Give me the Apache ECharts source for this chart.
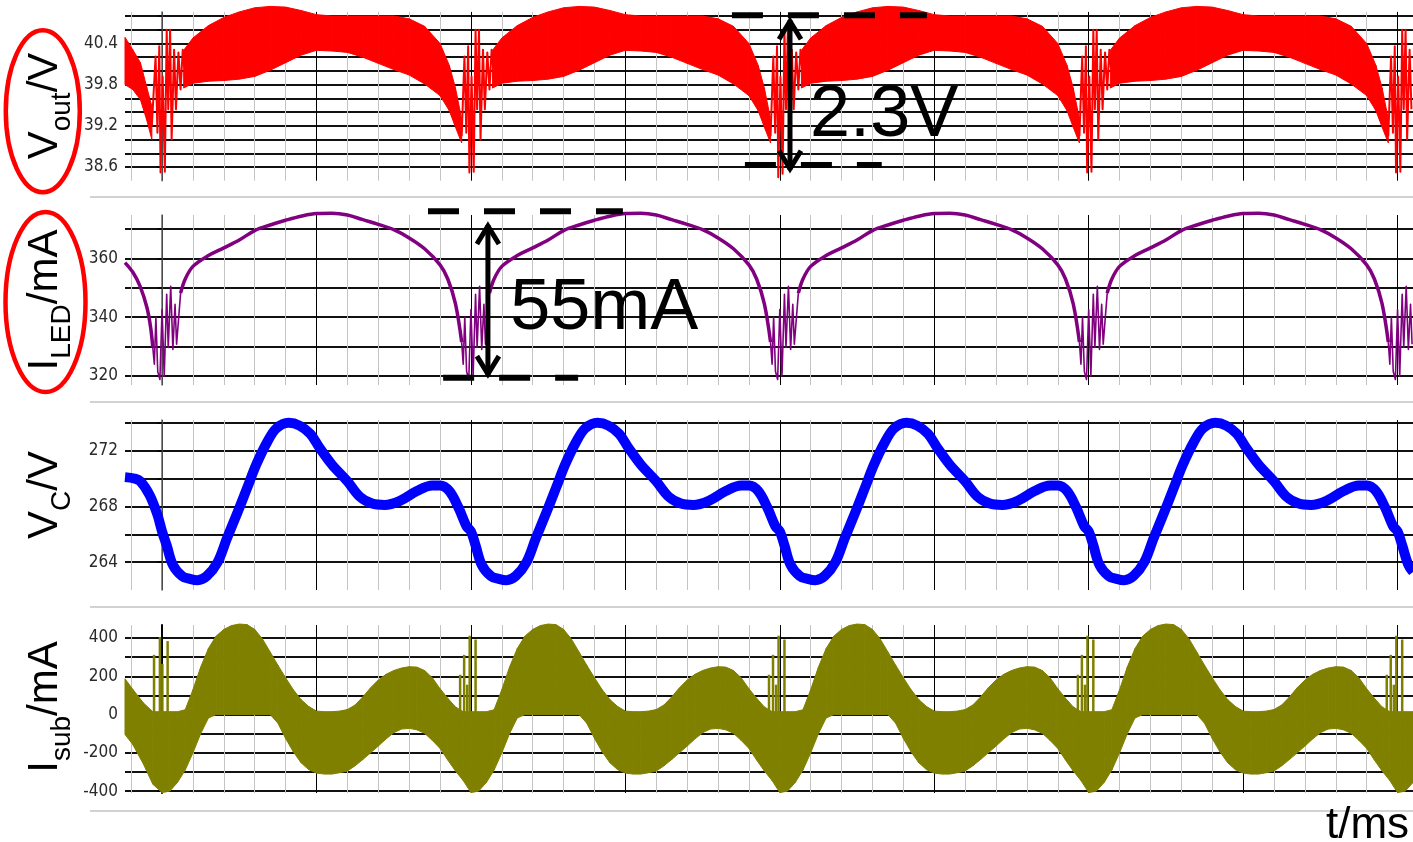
<!DOCTYPE html>
<html><head><meta charset="utf-8">
<script src="https://cdn.jsdelivr.net/npm/echarts@6/dist/echarts.min.js"></script>
<style>html,body{margin:0;padding:0;background:#fff}#c{width:1413px;height:842px}</style>
</head><body><div id="c"></div>
<script>
// ---------- DATA (t in ms) ----------
// Vout ripple band (lower / upper envelope), null = break at the dips
const VOUT_T = [-1.2,-0.95,-0.7,-0.5,-0.33,null,
0.7,1,1.5,2,2.5,3,3.5,4,4.5,5,5.5,6,6.5,7,7.5,8,8.5,9,9.3,9.5,9.7,null,
10.7,11,11.5,12,12.5,13,13.5,14,14.5,15,15.5,16,16.5,17,17.5,18,18.5,19,19.3,19.5,19.7,null,
20.7,21,21.5,22,22.5,23,23.5,24,24.5,25,25.5,26,26.5,27,27.5,28,28.5,29,29.3,29.5,29.7,null,
30.7,31,31.5,32,32.5,33,33.5,34,34.5,35,35.5,36,36.5,37,37.5,38,38.5,39,39.3,39.5,39.7];
const VOUT_HI = [40.49,40.31,40.12,39.77,39.48,null,
40.30,40.48,40.66,40.78,40.86,40.92,40.94,40.93,40.88,40.82,40.80,40.80,40.80,40.80,40.80,40.76,40.65,40.40,40.08,39.75,39.30,null,
40.30,40.48,40.66,40.78,40.86,40.92,40.94,40.93,40.88,40.82,40.80,40.80,40.80,40.80,40.80,40.76,40.65,40.40,40.08,39.75,39.30,null,
40.30,40.48,40.66,40.78,40.86,40.92,40.94,40.93,40.88,40.82,40.80,40.80,40.80,40.80,40.80,40.76,40.65,40.40,40.08,39.75,39.30,null,
40.30,40.48,40.66,40.78,40.86,40.92,40.94,40.93,40.88,40.82,40.80,40.80,40.80,40.80,40.80,40.76,40.65,40.40,40.08,39.75,39.30];
const VOUT_LO = [39.80,39.73,39.58,39.29,39.00,null,
39.75,39.82,39.85,39.86,39.88,39.92,40.01,40.12,40.23,40.30,40.29,40.27,40.20,40.11,40.02,39.94,39.81,39.64,39.42,39.18,38.95,null,
39.75,39.82,39.85,39.86,39.88,39.92,40.01,40.12,40.23,40.30,40.29,40.27,40.20,40.11,40.02,39.94,39.81,39.64,39.42,39.18,38.95,null,
39.75,39.82,39.85,39.86,39.88,39.92,40.01,40.12,40.23,40.30,40.29,40.27,40.20,40.11,40.02,39.94,39.81,39.64,39.42,39.18,38.95,null,
39.75,39.82,39.85,39.86,39.88,39.92,40.01,40.12,40.23,40.30,40.29,40.27,40.20,40.11,40.02,39.94,39.81,39.64,39.42,39.18,38.95];
// Vout oscillation at the dips
const VOUT_SPK_T = [-0.33,-0.21,-0.15,-0.09,-0.05,0.02,0.09,0.15,0.2,0.26,0.31,0.39,0.45,0.53,0.6,0.67,0.72,null,
9.7,9.79,9.85,9.91,9.95,10.02,10.09,10.15,10.2,10.26,10.31,10.39,10.45,10.53,10.6,10.67,10.72,null,
19.7,19.79,19.85,19.91,19.95,20.02,20.09,20.15,20.2,20.26,20.31,20.39,20.45,20.53,20.6,20.67,20.72,null,
29.7,29.79,29.85,29.91,29.95,30.02,30.09,30.15,30.2,30.26,30.31,30.39,30.45,30.53,30.6,30.67,30.72,null,
39.7,39.79,39.85,39.91,39.95,40.02,40.09,40.15,40.2,40.26,40.31,40.39,40.45];
const VOUT_SPK_V = [39.2,40.21,39.1,40.36,38.52,39.92,38.53,40.6,39.44,40.6,39.0,40.31,39.44,40.27,39.73,40.31,40.05,null,
39.05,40.21,39.1,40.36,38.52,39.92,38.53,40.6,39.44,40.6,39.0,40.31,39.44,40.27,39.73,40.31,40.05,null,
39.05,40.21,39.1,40.36,38.45,39.92,38.5,40.6,39.44,40.6,39.0,40.31,39.44,40.27,39.73,40.31,40.05,null,
39.05,40.21,39.1,40.36,38.52,39.92,38.53,40.6,39.44,40.6,39.0,40.31,39.44,40.27,39.73,40.31,40.05,null,
39.05,40.21,39.1,40.36,38.52,39.92,38.53,40.6,39.44,40.6,39.0,40.31,39.44];
// I_LED
const ILED_T = [-1.2,-0.94,-0.71,-0.49,-0.37,-0.3,null,
0.6,0.75,1,1.5,2,2.5,3,3.5,4,4.5,5,5.5,6,6.5,7,7.5,8,8.5,9,9.25,9.5,9.7,null,
10.6,10.75,11,11.5,12,12.5,13,13.5,14,14.5,15,15.5,16,16.5,17,17.5,18,18.5,19,19.25,19.5,19.7,null,
20.6,20.75,21,21.5,22,22.5,23,23.5,24,24.5,25,25.5,26,26.5,27,27.5,28,28.5,29,29.25,29.5,29.7,null,
30.6,30.75,31,31.5,32,32.5,33,33.5,34,34.5,35,35.5,36,36.5,37,37.5,38,38.5,39,39.25,39.5,39.7];
const ILED_V = [358.6,355.2,350.5,343.3,336.5,329.7,null,
348.2,353.0,357.3,361.0,363.6,366.3,369.5,371.4,373.0,374.4,375.3,375.4,374.8,373.2,371.6,369.8,367.0,363.3,357.8,353.0,344.5,331.5,null,
348.2,353.0,357.3,361.0,363.6,366.3,369.5,371.4,373.0,374.4,375.3,375.4,374.8,373.2,371.6,369.8,367.0,363.3,357.8,353.0,344.5,331.5,null,
348.2,353.0,357.3,361.0,363.6,366.3,369.5,371.4,373.0,374.4,375.3,375.4,374.8,373.2,371.6,369.8,367.0,363.3,357.8,353.0,344.5,331.5,null,
348.2,353.0,357.3,361.0,363.6,366.3,369.5,371.4,373.0,374.4,375.3,375.4,374.8,373.2,371.6,369.8,367.0,363.3,357.8,353.0,344.5,331.5];
const ILED_SPK_T = [-0.3,-0.25,-0.2,-0.14,-0.07,0,0.07,0.15,0.2,0.28,0.35,0.42,0.47,0.6,null,
9.7,9.75,9.8,9.86,9.93,10,10.07,10.15,10.2,10.28,10.35,10.42,10.47,10.6,null,
19.7,19.75,19.8,19.86,19.93,20,20.07,20.15,20.2,20.28,20.35,20.42,20.47,20.6,null,
29.7,29.75,29.8,29.86,29.93,30,30.07,30.15,30.2,30.28,30.35,30.42,30.47,30.6,null,
39.7,39.75,39.8,39.86,39.93,40,40.07,40.15,40.2,40.28,40.35,40.42,40.47];
const ILED_SPK_V = [329.7,324,340,321.5,318.8,342.6,320,347.8,329.7,350.5,329,344.4,330.8,348.2,null,
331.5,324,340,321.5,318.8,342.6,320,347.8,329.7,350.5,329,344.4,330.8,348.2,null,
331.5,324,340,321.5,318.8,342.6,320,347.8,329.7,350.5,329,344.4,330.8,348.2,null,
331.5,324,340,321.5,318.8,342.6,320,347.8,329.7,350.5,329,344.4,330.8,348.2,null,
331.5,324,340,321.5,318.8,342.6,320,347.8,329.7,350.5,329,344.4,330.8];
// V_C
const VC_T = [-1.2,-0.9,-0.7,-0.4,-0.15,
0,0.15,0.35,0.65,0.9,1.15,1.45,1.8,2.1,2.45,2.75,3.05,3.4,3.7,4.1,4.45,4.8,5.1,5.5,6,6.4,6.8,7.2,7.7,8.25,8.75,9,9.3,9.6,9.85,
10,10.15,10.35,10.65,10.9,11.15,11.45,11.8,12.1,12.45,12.75,13.05,13.4,13.7,14.1,14.45,14.8,15.1,15.5,16,16.4,16.8,17.2,17.7,18.25,18.75,19,19.3,19.6,19.85,
20,20.15,20.35,20.65,20.9,21.15,21.45,21.8,22.1,22.45,22.75,23.05,23.4,23.7,24.1,24.45,24.8,25.1,25.5,26,26.4,26.8,27.2,27.7,28.25,28.75,29,29.3,29.6,29.85,
30,30.15,30.35,30.65,30.9,31.15,31.45,31.8,32.1,32.45,32.75,33.05,33.4,33.7,34.1,34.45,34.8,35.1,35.5,36,36.4,36.8,37.2,37.7,38.25,38.75,39,39.3,39.6,39.85,
40,40.15,40.35,40.5];
const VC_V = [270.1,270.0,269.8,268.8,267.4,
266.2,265.2,263.8,263.0,262.8,262.7,263.0,264.0,265.7,267.6,269.3,271.0,272.6,273.6,274.0,273.8,273.2,272.2,271.0,269.8,268.7,268.2,268.1,268.4,269.1,269.5,269.5,269.1,267.9,266.6,
266.2,265.2,263.8,263.0,262.8,262.7,263.0,264.0,265.7,267.6,269.3,271.0,272.6,273.6,274.0,273.8,273.2,272.2,271.0,269.8,268.7,268.2,268.1,268.4,269.1,269.5,269.5,269.1,267.9,266.6,
266.2,265.2,263.8,263.0,262.8,262.7,263.0,264.0,265.7,267.6,269.3,271.0,272.6,273.6,274.0,273.8,273.2,272.2,271.0,269.8,268.7,268.2,268.1,268.4,269.1,269.5,269.5,269.1,267.9,266.6,
266.2,265.2,263.8,263.0,262.8,262.7,263.0,264.0,265.7,267.6,269.3,271.0,272.6,273.6,274.0,273.8,273.2,272.2,271.0,269.8,268.7,268.2,268.1,268.4,269.1,269.5,269.5,269.1,267.9,266.6,
266.2,265.2,263.8,263.3];
// I_sub ripple band
const ISUB_T = [-1.2,-0.95,-0.6,-0.3,
0,0.25,0.5,0.75,1,1.25,1.5,1.75,2,2.25,2.5,2.75,3,3.25,3.5,3.75,4,4.25,4.5,4.75,5,5.25,5.5,5.75,6,6.25,6.5,6.75,7,7.25,7.5,7.75,8,8.25,8.5,8.75,9,9.25,9.5,9.75,
10,10.25,10.5,10.75,11,11.25,11.5,11.75,12,12.25,12.5,12.75,13,13.25,13.5,13.75,14,14.25,14.5,14.75,15,15.25,15.5,15.75,16,16.25,16.5,16.75,17,17.25,17.5,17.75,18,18.25,18.5,18.75,19,19.25,19.5,19.75,
20,20.25,20.5,20.75,21,21.25,21.5,21.75,22,22.25,22.5,22.75,23,23.25,23.5,23.75,24,24.25,24.5,24.75,25,25.25,25.5,25.75,26,26.25,26.5,26.75,27,27.25,27.5,27.75,28,28.25,28.5,28.75,29,29.25,29.5,29.75,
30,30.25,30.5,30.75,31,31.25,31.5,31.75,32,32.25,32.5,32.75,33,33.25,33.5,33.75,34,34.25,34.5,34.75,35,35.25,35.5,35.75,36,36.25,36.5,36.75,37,37.25,37.5,37.75,38,38.25,38.5,38.75,39,39.25,39.5,39.75,
40,40.25,40.5];
const ISUB_HI = [187,132,60,15,
15,15,15,25,130,248,345,410,445,465,473,470,445,395,327,258,192,130,78,42,18,15,15,18,26,50,92,140,180,210,230,243,250,248,230,192,135,85,40,15,
15,15,15,25,130,248,345,410,445,465,473,470,445,395,327,258,192,130,78,42,18,15,15,18,26,50,92,140,180,210,230,243,250,248,230,192,135,85,40,15,
15,15,15,25,130,248,345,410,445,465,473,470,445,395,327,258,192,130,78,42,18,15,15,18,26,50,92,140,180,210,230,243,250,248,230,192,135,85,40,15,
15,15,15,25,130,248,345,410,445,465,473,470,445,395,327,258,192,130,78,42,18,15,15,18,26,50,92,140,180,210,230,243,250,248,230,192,135,85,40,15,
15,15,15];
const ISUB_LO = [-104,-156,-260,-364,
-408,-400,-355,-290,-200,-100,-18,0,0,0,0,0,0,0,0,-45,-125,-195,-252,-288,-306,-311,-311,-304,-295,-268,-235,-200,-165,-128,-95,-76,-72,-80,-98,-135,-177,-238,-295,-345,
-408,-400,-355,-290,-200,-100,-18,0,0,0,0,0,0,0,0,-45,-125,-195,-252,-288,-306,-311,-311,-304,-295,-268,-235,-200,-165,-128,-95,-76,-72,-80,-98,-135,-177,-238,-295,-345,
-408,-400,-355,-290,-200,-100,-18,0,0,0,0,0,0,0,0,-45,-125,-195,-252,-288,-306,-311,-311,-304,-295,-268,-235,-200,-165,-128,-95,-76,-72,-80,-98,-135,-177,-238,-295,-345,
-408,-400,-355,-290,-200,-100,-18,0,0,0,0,0,0,0,0,-45,-125,-195,-252,-288,-306,-311,-311,-304,-295,-268,-235,-200,-165,-128,-95,-76,-72,-80,-98,-135,-177,-238,-295,-345,
-408,-400,-355];
const ISUB_SPK_T = [-0.26,-0.07,0.01,0.18, 9.65,9.78,9.88,9.96,10.15, 19.65,19.78,19.88,19.96,20.15, 29.65,29.78,29.88,29.96,30.15, 39.65,39.78,39.88,39.96,40.15];
const ISUB_SPK_V = [312,405,265,384, 208,312,156,412,392, 208,312,156,412,392, 208,312,156,412,392, 208,312,156,412,392];

// tick labels shown on each y axis
const VOUT_LABELS = [38.6, 39.2, 39.8, 40.4];
const ILED_LABELS = [320, 340, 360];
const VC_LABELS = [264, 268, 272];
const ISUB_LABELS = [-400, -200, 0, 200, 400];

// annotations (data coordinates)
const VOUT_ANN = {dashTop:[18.45,24.76,40.81], dashBot:[18.87,23.30,38.63], arrow:[20.33,40.767,38.531], label:[20.98,39.34,'2.3V']};
const ILED_ANN = {dashTop:[8.61,14.92,376.06], dashBot:[9.10,13.47,319.35], arrow:[10.55,372.08,319.6], label:[11.27,342.78,'55mA']};

// ---------- CHART ----------
const FONT = '"Liberation Sans", Arial, sans-serif';
const TICKFONT = '"Liberation Sans Narrow", "DejaVu Sans Condensed", "Liberation Sans", sans-serif';
const chart = echarts.init(document.getElementById('c'), null, {renderer: 'canvas'});

function pts(T, V) { return T.map((t, i) => (t == null || V[i] == null) ? ['-', '-'] : [t, V[i]]); }
function band(idx, T, LO, HI, color) {
  return {
    type: 'custom', xAxisIndex: idx, yAxisIndex: idx, silent: true, clip: false, z: 2,
    data: T.map((t, i) => t == null ? ['-', '-', '-'] : [t, LO[i], HI[i]]),
    encode: {x: 0, y: [1, 2]},
    renderItem: function (params, api) {
      const i = params.dataIndexInside;
      if (i >= params.dataInsideLength - 1) return null;
      const t0 = api.value(0, i), t1 = api.value(0, i + 1);
      if (isNaN(t0) || isNaN(t1)) return null;
      const a = api.coord([t0, api.value(1, i)]), b = api.coord([t0, api.value(2, i)]);
      const c = api.coord([t1, api.value(2, i + 1)]), d = api.coord([t1, api.value(1, i + 1)]);
      return {type: 'polygon', shape: {points: [a, b, c, d]}, style: {fill: color, stroke: color, lineWidth: 1}};
    }
  };
}
function xAx(idx) {
  return {type: 'value', gridIndex: idx, min: -1.2, max: 40.5, minInterval: 5, maxInterval: 5,
    axisLine: {show: false}, axisTick: {show: false}, axisLabel: {show: false},
    splitLine: {show: true, showMinLine: false, showMaxLine: false, lineStyle: {color: '#000', width: 1}},
    minorTick: {show: false, splitNumber: 5},
    minorSplitLine: {show: true, lineStyle: {color: '#c4c4c4', width: 1}}};
}
function yAx(idx, min, max, step, labels, dec, axisColor, axisW) {
  return {type: 'value', gridIndex: idx, min: min, max: max, minInterval: step, maxInterval: step,
    axisLine: {show: true, lineStyle: {color: axisColor, width: axisW}},
    axisTick: {show: true, length: 5, lineStyle: {color: '#000', width: 1.5}},
    axisLabel: {margin: 7, color: '#2a2a2a', fontFamily: TICKFONT, fontSize: 17, showMinLabel: false, showMaxLabel: false,
      formatter: v => labels.some(l => Math.abs(l - v) < 1e-6) ? Number(v).toFixed(dec) : ''},
    splitLine: {show: true, showMinLine: false, showMaxLine: false, lineStyle: {color: '#111', width: 2}}};
}
const line = (idx, T, V, color, w, sm) => ({type: 'line', xAxisIndex: idx, yAxisIndex: idx, data: pts(T, V),
  symbol: 'none', showSymbol: false, connectNulls: false, clip: false, silent: true, smooth: sm || false,
  lineStyle: {color: color, width: w, join: 'round'}, z: 3});

chart.setOption({
  animation: false,
  backgroundColor: '#fff',
  grid: [
    {left: 125, right: 0, top: 11.9, height: 168.8},
    {left: 125, right: 0, top: 215, height: 170},
    {left: 125, right: 0, top: 420, height: 170},
    {left: 125, right: 0, top: 625, height: 168}
  ],
  xAxis: [xAx(0), xAx(1), xAx(2), xAx(3)],
  yAxis: [
    yAx(0, 38.4, 40.86, 0.2, VOUT_LABELS, 1, '#666', 1.5),
    yAx(1, 316.9, 374.8, 10, ILED_LABELS, 0, '#666', 1.5),
    yAx(2, 262, 274.2, 2, VC_LABELS, 0, '#666', 1.5),
    yAx(3, -410, 468, 100, ISUB_LABELS, 0, '#000', 2)
  ],
  series: [
    band(0, VOUT_T, VOUT_LO, VOUT_HI, '#ff0000'),
    line(0, VOUT_SPK_T, VOUT_SPK_V, '#ff0000', 2),
    line(1, ILED_T, ILED_V, '#800080', 3.5, 0.35),
    line(1, ILED_SPK_T, ILED_SPK_V, '#800080', 1.6),
    line(2, VC_T, VC_V, '#0000ff', 10, 0.35),
    band(3, ISUB_T, ISUB_LO, ISUB_HI, '#808000'),
    {type: 'bar', xAxisIndex: 3, yAxisIndex: 3, barWidth: 2.5, silent: true, z: 3,
     itemStyle: {color: '#808000'}, data: pts(ISUB_SPK_T, ISUB_SPK_V)}
  ]
});

// ---------- graphic overlays ----------
const mctx = document.createElement('canvas').getContext('2d');
function tw(s, size) { mctx.font = size + 'px ' + FONT; return mctx.measureText(s).width; }
function title(cx, cy, parts) {
  const widths = parts.map(p => tw(p[0], p[1] ? 28 : 42));
  const W = widths.reduce((a, b) => a + b, 0);
  let x = -W / 2; const children = [];
  parts.forEach((p, i) => {
    children.push({type: 'text', x: x, y: p[1] ? 17 : 0,
      style: {text: p[0], fontSize: p[1] ? 28 : 42, fontFamily: FONT, fill: '#000',
        align: 'left', verticalAlign: 'middle', textAlign: 'left', textVerticalAlign: 'middle'}});
    x += widths[i];
  });
  return {type: 'group', x: cx, y: cy, rotation: Math.PI / 2, z: 100, children: children};
}
function P(g, t, v) { return chart.convertToPixel({gridIndex: g}, [t, v]); }
function annot(g, A) {
  const out = [];
  const dash = (d) => { const a = P(g, d[0], d[2]), b = P(g, d[1], d[2]);
    out.push({type: 'line', z: 100, shape: {x1: a[0], y1: a[1], x2: b[0], y2: b[1]},
      style: {stroke: '#000', lineWidth: 6, lineDash: [31, 25], lineCap: 'butt'}}); };
  dash(A.dashTop); dash(A.dashBot);
  const top = P(g, A.arrow[0], A.arrow[1]), bot = P(g, A.arrow[0], A.arrow[2]);
  const st = {stroke: '#000', lineWidth: 5, fill: null, lineCap: 'butt', lineJoin: 'miter'};
  out.push({type: 'line', z: 100, shape: {x1: top[0], y1: top[1] + 2, x2: bot[0], y2: bot[1] - 2}, style: st});
  out.push({type: 'polyline', z: 100, shape: {points: [[top[0] - 11, top[1] + 21], [top[0], top[1] + 3], [top[0] + 11, top[1] + 21]]}, style: st});
  out.push({type: 'polyline', z: 100, shape: {points: [[bot[0] - 11, bot[1] - 21], [bot[0], bot[1] - 3], [bot[0] + 11, bot[1] - 21]]}, style: st});
  const lp = P(g, A.label[0], A.label[1]);
  out.push({type: 'text', z: 100, x: lp[0], y: lp[1], style: {text: A.label[2], fontSize: 72, fontFamily: FONT, fill: '#000',
    align: 'left', verticalAlign: 'middle', textAlign: 'left', textVerticalAlign: 'middle'}});
  return out;
}
const sep = y => ({type: 'line', z: 1, shape: {x1: 90, y1: y, x2: 1413, y2: y}, style: {stroke: '#d2d2d2', lineWidth: 2}});
const graphics = [
  sep(197), sep(402), sep(607), sep(811),
  {type: 'ellipse', z: 100, shape: {cx: 42.8, cy: 111.2, rx: 37, ry: 81}, style: {fill: null, stroke: '#ff0000', lineWidth: 4.5}},
  {type: 'ellipse', z: 100, shape: {cx: 45.5, cy: 302, rx: 40, ry: 90}, style: {fill: null, stroke: '#ff0000', lineWidth: 4.5}},
  title(45, 106, [['V', 0], ['out', 1], ['/V', 0]]),
  title(45, 300, [['I', 0], ['LED', 1], ['/mA', 0]]),
  title(45, 495, [['V', 0], ['C', 1], ['/V', 0]]),
  title(45, 707, [['I', 0], ['sub', 1], ['/mA', 0]]),
  {type: 'text', z: 100, x: 1326, y: 826, style: {text: 't/ms', fontSize: 44, fontFamily: FONT, fill: '#000',
    align: 'left', verticalAlign: 'middle', textAlign: 'left', textVerticalAlign: 'middle'}}
].concat(annot(0, VOUT_ANN), annot(1, ILED_ANN));
chart.setOption({graphic: graphics});
</script></body></html>
